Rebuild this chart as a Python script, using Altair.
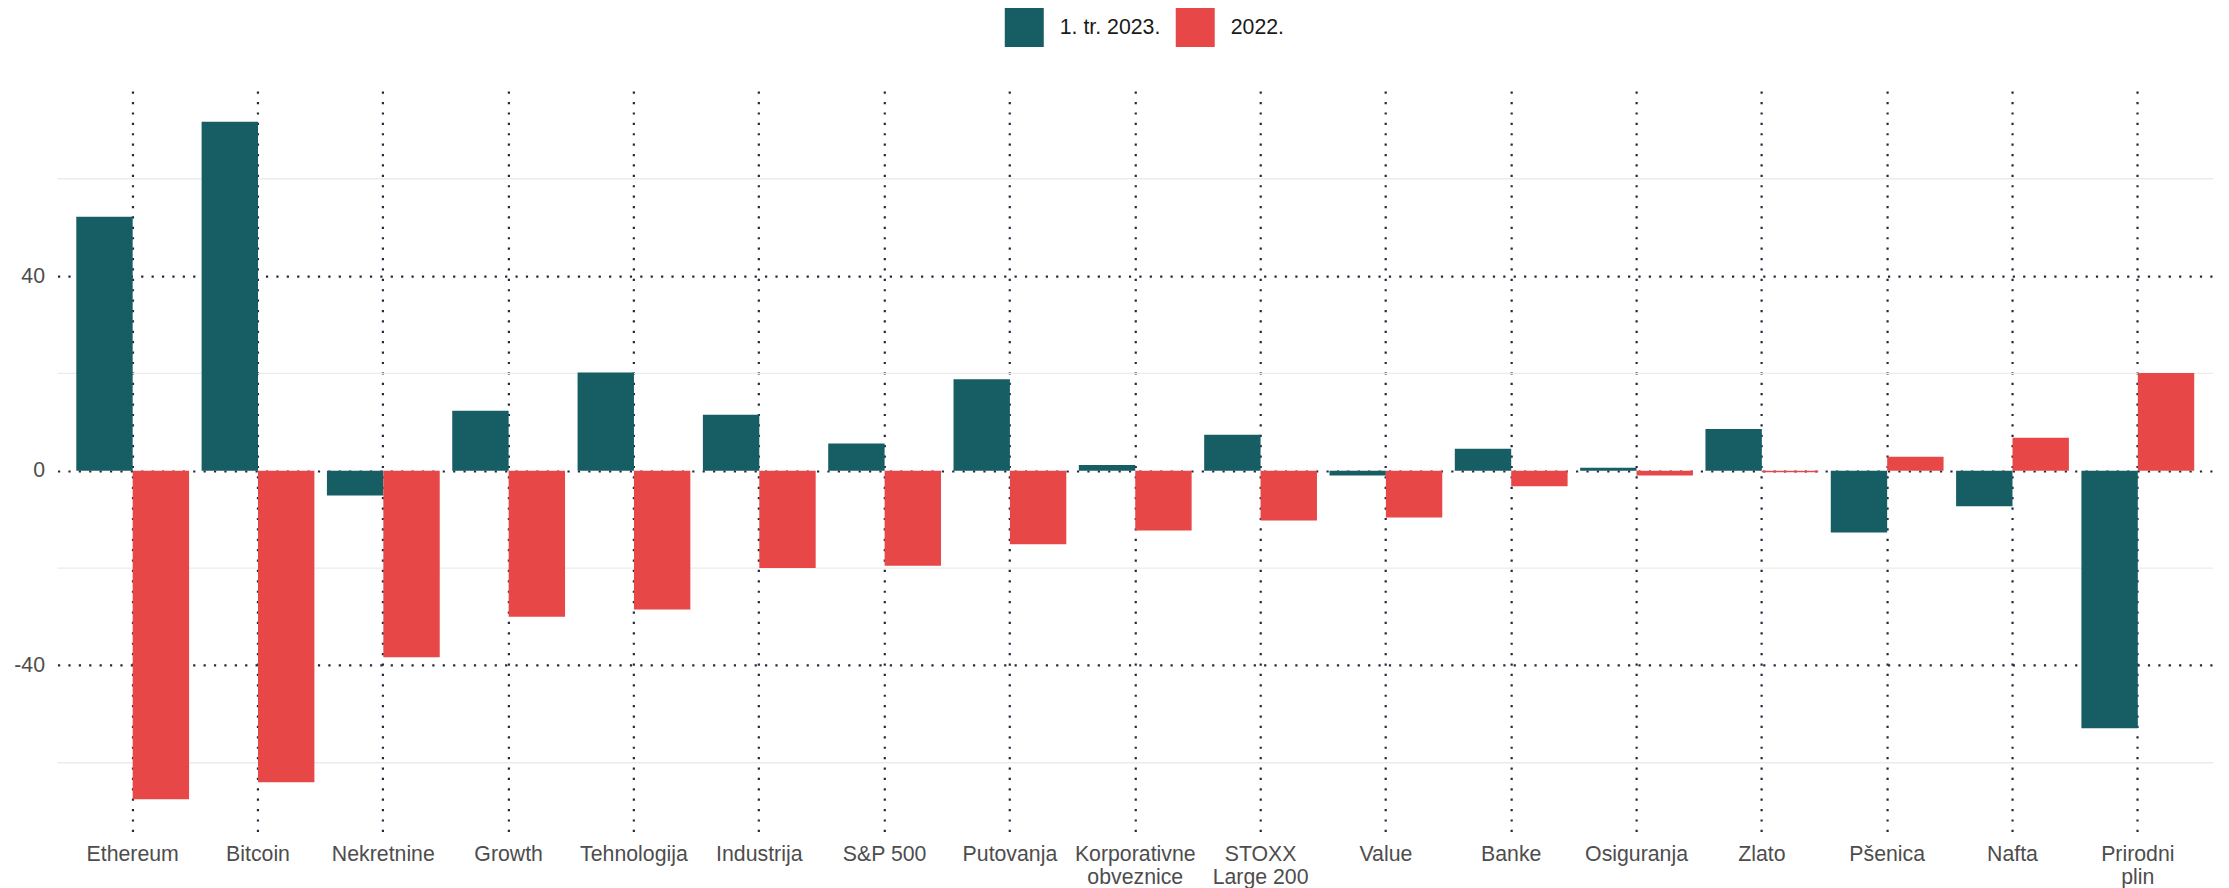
import altair as alt
import pandas as pd

categories = ["Ethereum", "Bitcoin", "Nekretnine", "Growth", "Tehnologija", "Industrija",
              "S&P 500", "Putovanja", "Korporativne\nobveznice", "STOXX\nLarge 200", "Value",
              "Banke", "Osiguranja", "Zlato", "Pšenica", "Nafta", "Prirodni\nplin"]
q1_2023 = [52.2, 71.7, -5.1, 12.3, 20.2, 11.5, 5.6, 18.8, 1.2, 7.4, -1.0, 4.5, 0.6, 8.6, -12.7, -7.3, -52.9]
y2022 = [-67.5, -64.0, -38.3, -30.0, -28.5, -20.0, -19.5, -15.1, -12.3, -10.2, -9.6, -3.2, -1.0, -0.3, 2.9, 6.8, 20.1]
series = ["1. tr. 2023.", "2022."]
colors = ["#165E63", "#E84747"]
major_ticks = [-40, 0, 40]
minor_ticks = [-60, -20, 20, 60]

rows = []
for c, a, b in zip(categories, q1_2023, y2022):
    rows.append({"cat": c, "series": series[0], "value": a})
    rows.append({"cat": c, "series": series[1], "value": b})
df = pd.DataFrame(rows)
minor_df = pd.DataFrame({"value": minor_ticks})

FONT = "Liberation Sans"
ydomain = [-74.2, 78.0]

yscale = alt.Scale(domain=ydomain, nice=False, zero=False)
yaxis = alt.Axis(title=None, values=major_ticks, labelExpr="'' + datum.value",
                 labelFontSize=21.3, labelColor="#4D4D4D", labelFont=FONT,
                 labelPadding=13, ticks=False, domain=False, grid=True,
                 gridColor="#232A3D", gridWidth=2.2, gridDash=[2.2, 8.2])

minor = alt.Chart(minor_df).mark_rule(color="#EBEBEB", strokeWidth=1.4).encode(
    y=alt.Y("value:Q", scale=yscale, axis=yaxis)
)

bars = alt.Chart(df).mark_bar(cornerRadius=0).encode(
    x=alt.X("cat:N", sort=categories,
            scale=alt.Scale(paddingInner=0.1, paddingOuter=0.15),
            axis=alt.Axis(title=None, labelExpr="split(datum.label, '\\n')",
                          labelAngle=0, labelFontSize=21.3, labelColor="#4D4D4D",
                          labelFont=FONT, labelPadding=12, labelLineHeight=23,
                          ticks=False, domain=False, grid=True, bandPosition=0.5,
                          gridColor="#232A3D", gridWidth=2.2, gridDash=[2.2, 8.2],
                          labelBaseline="top")),
    xOffset=alt.XOffset("series:N", sort=series, scale=alt.Scale(paddingInner=0, paddingOuter=0)),
    y=alt.Y("value:Q", scale=yscale, axis=yaxis),
    color=alt.Color("series:N", sort=series,
                    scale=alt.Scale(domain=series, range=colors),
                    legend=alt.Legend(title=None, orient="none", direction="horizontal",
                                      legendX=947.5, legendY=-83,
                                      symbolType="square", symbolSize=1521,
                                      symbolStrokeWidth=0, symbolOpacity=1,
                                      labelFontSize=21.3, labelFont=FONT, labelColor="#1A1A1A",
                                      labelOffset=16, columnPadding=15, padding=0,
                                      offset=0)),
)

chart = alt.layer(minor, bars).properties(
    width=2156, height=741,
    background="white",
    autosize=alt.AutoSizeParams(type="none"),
    padding={"left": 49.5, "top": 83, "right": 8, "bottom": 56},
).configure_view(strokeWidth=0, stroke="transparent")

chart.save("out.html", embed_options={"renderer": "svg", "actions": False})
